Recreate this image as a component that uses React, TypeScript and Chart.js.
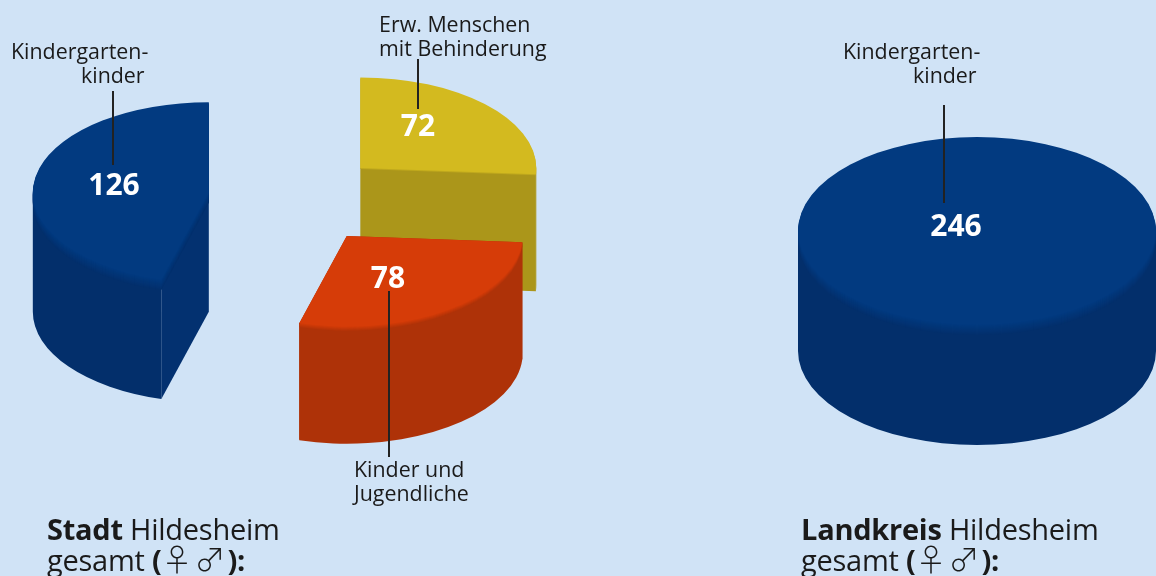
import React, { useEffect, useRef } from "react";
import { Chart, registerables } from "chart.js";

Chart.register(...registerables);

const cityCategories = ["Erw. Menschen mit Behinderung", "Kinder und Jugendliche", "Kindergartenkinder"];
const cityValues = [72, 78, 126];
const countyCategories = ["Kindergartenkinder"];
const countyValues = [246];

const topColors = ["#d3ba1f", "#d63c08", "#023a80"];
const wallColors = ["#ab961a", "#ae3208", "#032f6b"];
const flatColors = ["#ab961a", "#ae3208", "#033170"];
const countyTop = ["#023a80"];
const countyWall = ["#032f6b"];

const BG = "#d0e3f6";
const FONT = '"Open Sans", "DejaVu Sans", sans-serif';

function mix(a: string, b: string, t: number) {
  const p = (h: string, i: number) => parseInt(h.slice(i, i + 2), 16);
  const c = [1, 3, 5].map((i) => Math.round(p(a, i) * (1 - t) + p(b, i) * t));
  return `rgb(${c[0]},${c[1]},${c[2]})`;
}

function visibleFront(a0: number, a1: number): [number, number][] {
  const out: [number, number][] = [];
  for (const n of [-1, 0, 1, 2]) {
    const s = Math.max(a0, n * 2 * Math.PI);
    const e = Math.min(a1, n * 2 * Math.PI + Math.PI);
    if (e > s) out.push([s, e]);
  }
  return out;
}

const pie3d = {
  id: "pie3d",
  beforeDatasetsDraw(chart: any, _args: any, opts: any) {
    const ctx: CanvasRenderingContext2D = chart.ctx;
    const k: number = opts.squash;
    const depths: number[] = opts.depths;
    const seams: number[] = opts.seams;
    const meta = chart.getDatasetMeta(0);
    const ds = chart.data.datasets[0];
    meta.data.forEach((arc: any, i: number) => {
      const { x, y, startAngle, endAngle, outerRadius: R } = arc;
      const off: number = arc.options.offset || 0;
      const mid = (startAngle + endAngle) / 2;
      const full = endAngle - startAngle >= 2 * Math.PI - 1e-6;
      const cx = x + (full ? 0 : Math.cos(mid) * off);
      const cy = y + (full ? 0 : Math.sin(mid) * off * k);
      const H = depths[i];
      const ry = R * k;
      const face = (dy: number) => {
        ctx.beginPath();
        if (full) {
          ctx.ellipse(cx, cy + dy, R, ry, 0, 0, 2 * Math.PI);
        } else {
          ctx.moveTo(cx, cy + dy);
          ctx.ellipse(cx, cy + dy, R, ry, 0, startAngle, endAngle);
          ctx.closePath();
        }
        ctx.fill();
      };
      ctx.save();
      if (!full) {
        ctx.fillStyle = ds.flatColors[i];
        for (const a of [startAngle, endAngle]) {
          const ex = cx + Math.cos(a) * R;
          const ey = cy + Math.sin(a) * ry;
          ctx.beginPath();
          ctx.moveTo(cx, cy);
          ctx.lineTo(ex, ey);
          ctx.lineTo(ex, ey + H);
          ctx.lineTo(cx, cy + H);
          ctx.closePath();
          ctx.fill();
        }
      }
      ctx.fillStyle = ds.wallColors[i];
      for (const [s, e] of visibleFront(startAngle, endAngle)) {
        ctx.beginPath();
        ctx.ellipse(cx, cy, R, ry, 0, s, e);
        ctx.ellipse(cx, cy + H, R, ry, 0, e, s, true);
        ctx.closePath();
        ctx.fill();
      }
      const seam = seams[i];
      for (let t = seam; t >= 1; t--) {
        ctx.fillStyle = mix(ds.backgroundColor[i], ds.wallColors[i], t / (seam + 1));
        face(t);
      }
      ctx.fillStyle = ds.backgroundColor[i];
      face(0);
      ctx.restore();
    });
    return false;
  },
};

function makePie(
  canvas: HTMLCanvasElement,
  labels: string[],
  data: number[],
  colors: string[],
  walls: string[],
  flats: string[],
  radius: number,
  offset: number,
  padding: any,
  squash: number,
  depths: number[],
  seams: number[]
) {
  return new Chart(canvas, {
    type: "pie",
    data: {
      labels,
      datasets: [
        { data, backgroundColor: colors, wallColors: walls, flatColors: flats, borderWidth: 0, offset, hoverOffset: 0 } as any,
      ],
    },
    options: {
      animation: false,
      responsive: false,
      radius,
      layout: { padding },
      events: [],
      plugins: {
        legend: { display: false },
        tooltip: { enabled: false },
        pie3d: { squash, depths, seams },
      } as any,
    } as any,
    plugins: [pie3d],
  });
}

const textLines: [string, number, number][] = [
  ["Kindergarten-", 11, 51],
  ["kinder", 81, 75],
  ["Erw. Menschen", 379, 24],
  ["mit Behinderung", 379, 48],
  ["Kinder und", 354, 469],
  ["Jugendliche", 354, 493],
  ["Kindergarten-", 843, 51],
  ["kinder", 913, 75],
];
const valueLabels: [number, number, number][] = [
  [cityValues[2], 114, 184],
  [cityValues[0], 418, 125],
  [cityValues[1], 388, 277],
  [countyValues[0], 956, 225],
];
const leaders: [number, number, number][] = [
  [112, 91, 165],
  [417, 59, 109],
  [388, 291, 457],
  [943, 105, 203],
];

const abs: React.CSSProperties = { position: "absolute", whiteSpace: "nowrap" };

function Title({ bold, left, top }: { bold: string; left: number; top: number }) {
  const style: React.CSSProperties = { ...abs, left, fontSize: 29, lineHeight: "30px", color: "#1a1a1a", letterSpacing: -0.25 };
  return (
    <>
      <div style={{ ...style, top }}>
        <b>{bold}</b> Hildesheim
      </div>
      <div style={{ ...style, top: top + 29 }}>
        gesamt <b>(</b>
        <span style={{ fontFamily: '"Noto Sans CJK JP"', fontWeight: 300, fontSize: 31, letterSpacing: 2 }}>♀♂</span>
        <b>):</b>
      </div>
    </>
  );
}

export default function App() {
  const leftRef = useRef<HTMLCanvasElement>(null);
  const rightRef = useRef<HTMLCanvasElement>(null);

  useEffect(() => {
    document.body.style.margin = "0";
    document.body.style.background = BG;
    const a = makePie(leftRef.current!, cityCategories, cityValues, topColors, wallColors, flatColors, 176, 88, { bottom: 178 }, 0.515, [117, 117, 119], [1, 4, 10]);
    const b = makePie(rightRef.current!, countyCategories, countyValues, countyTop, countyWall, countyWall, 179, 0, { left: 18, bottom: 114 }, 0.525, [120], [10]);
    return () => {
      a.destroy();
      b.destroy();
    };
  }, []);

  const blur = "blur(0.7px)";
  return (
    <div style={{ position: "fixed", left: 0, top: 0, width: 1156, height: 576, overflow: "hidden", background: BG, fontFamily: FONT }}>
      <canvas ref={leftRef} width={592} height={576} style={{ position: "absolute", left: 0, top: 0, filter: blur }} />
      <canvas ref={rightRef} width={376} height={576} style={{ position: "absolute", left: 780, top: 0, filter: blur }} />
      {leaders.map(([x, y0, y1], i) => (
        <div key={i} style={{ position: "absolute", left: x, top: y0, width: 1.5, height: y1 - y0, background: "#222" }} />
      ))}
      {textLines.map(([t, x, y], i) => (
        <div key={i} style={{ ...abs, left: x, top: y - 14, fontSize: 21.4, lineHeight: "28px", color: "#1a1a1a" }}>
          {t}
        </div>
      ))}
      {valueLabels.map(([v, x, y], i) => (
        <div key={i} style={{ ...abs, left: x - 40, width: 80, textAlign: "center", top: y - 20, fontSize: 30, lineHeight: "40px", fontWeight: 700, color: "#fff" }}>
          {v}
        </div>
      ))}
      <Title bold="Stadt" left={47} top={514} />
      <Title bold="Landkreis" left={801} top={514} />
    </div>
  );
}
